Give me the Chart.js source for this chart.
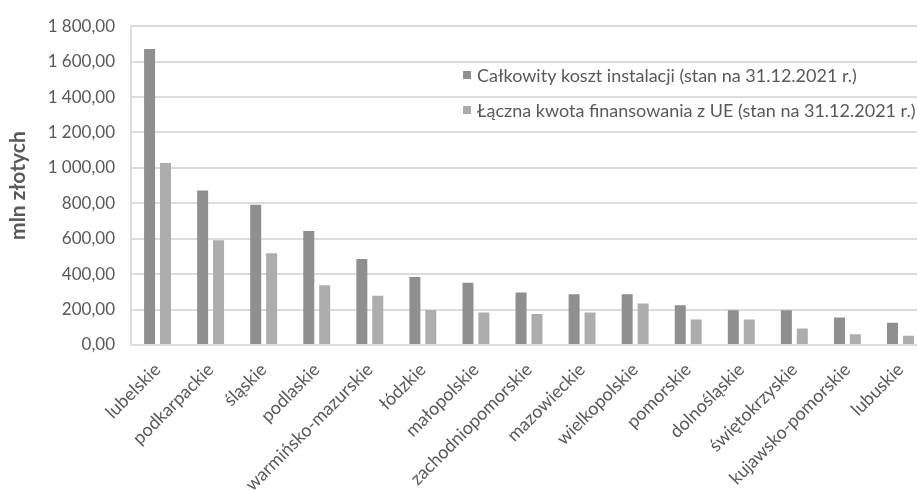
<!DOCTYPE html>
<html lang="pl">
<head>
    <meta charset="UTF-8">
    <title>Koszt instalacji wg województw</title>
    <script src="https://cdn.jsdelivr.net/npm/chart.js"></script>
    <style>
        html, body { margin: 0; padding: 0; background: #fff; overflow: hidden; }
        .wrap { position: relative; width: 927px; height: 490px; }
    </style>
</head>
<body>

<div class="wrap">
    <canvas id="wykres"></canvas>
</div>

<script>
    // Dane (mln zł)
    var wojewodztwa = ['lubelskie', 'podkarpackie', 'śląskie', 'podlaskie', 'warmińsko-mazurskie', 'łódzkie',
        'małopolskie', 'zachodniopomorskie', 'mazowieckie', 'wielkopolskie', 'pomorskie', 'dolnośląskie',
        'świętokrzyskie', 'kujawsko-pomorskie', 'lubuskie'];
    var kosztCalkowity = [1671, 872, 792, 643, 486, 384, 352, 297, 287, 286, 224, 196, 196, 155, 125];
    var kwotaUE = [1028, 592, 518, 337, 278, 197, 183, 175, 184, 235, 144, 144, 93, 61, 52];
    var etykietySerii = ['Całkowity koszt instalacji (stan na 31.12.2021 r.)', 'Łączna kwota finansowania z UE (stan na 31.12.2021 r.)'];
    var osY = { min: 0, max: 1800, krok: 200 };

    var szary = '#595959';
    var siatka = '#dcdcdc';

    // format "1 800,00"
    function formatPL(v) {
        var s = v.toFixed(2).replace('.', ',');
        var czesci = s.split(',');
        czesci[0] = czesci[0].replace(/\B(?=(\d{3})+(?!\d))/g, ' ');
        return czesci.join(',');
    }

    // legenda rysowana wewnatrz obszaru wykresu
    var legendaWewnatrz = {
        id: 'legendaWewnatrz',
        afterDraw: function(chart) {
            var c = chart.ctx;
            c.save();
            c.font = '18px Lato';
            c.textBaseline = 'middle';
            chart.data.datasets.forEach(function(ds, i) {
                var y = 75 + i * 35;
                c.fillStyle = ds.backgroundColor;
                c.fillRect(463, y - 4, 8, 8);
                c.fillStyle = szary;
                c.fillText(ds.label, 477, y + 1);
            });
            c.restore();
        }
    };

    var ctx = document.getElementById('wykres').getContext('2d');
    var wykres = new Chart(ctx, {
        type: 'bar',
        data: {
            labels: wojewodztwa,
            datasets: [
                {
                    label: etykietySerii[0],
                    data: kosztCalkowity,
                    backgroundColor: '#8f8f8f'
                },
                {
                    label: etykietySerii[1],
                    data: kwotaUE,
                    backgroundColor: '#adadad'
                }
            ]
        },
        options: {
            responsive: true,
            maintainAspectRatio: false,
            animation: false,
            layout: { padding: { top: 10, left: 0, right: 0, bottom: 0 } },
            datasets: {
                bar: { categoryPercentage: 0.6, barPercentage: 0.69 }
            },
            plugins: {
                legend: { display: false },
                tooltip: { enabled: false }
            },
            scales: {
                x: {
                    grid: { display: false },
                    border: { color: siatka, width: 2 },
                    ticks: {
                        color: szary,
                        font: { family: 'Lato', size: 18 },
                        minRotation: 45,
                        maxRotation: 45,
                        autoSkip: false,
                        padding: 6
                    },
                    afterFit: function(scale) { scale.height = 145; }
                },
                y: {
                    min: osY.min,
                    max: osY.max,
                    grid: { color: siatka, lineWidth: 2, drawTicks: false },
                    border: { color: siatka, width: 2 },
                    ticks: {
                        stepSize: osY.krok,
                        color: szary,
                        font: { family: 'Lato', size: 17 },
                        padding: 16,
                        callback: function(value) { return formatPL(value); }
                    },
                    title: {
                        display: true,
                        text: 'mln złotych',
                        color: szary,
                        font: { family: 'Lato', size: 21, weight: 'bold' },
                        padding: { top: 6, bottom: 0 }
                    },
                    afterFit: function(scale) { scale.width = 131; }
                }
            }
        },
        plugins: [legendaWewnatrz]
    });
</script>

</body>
</html>
